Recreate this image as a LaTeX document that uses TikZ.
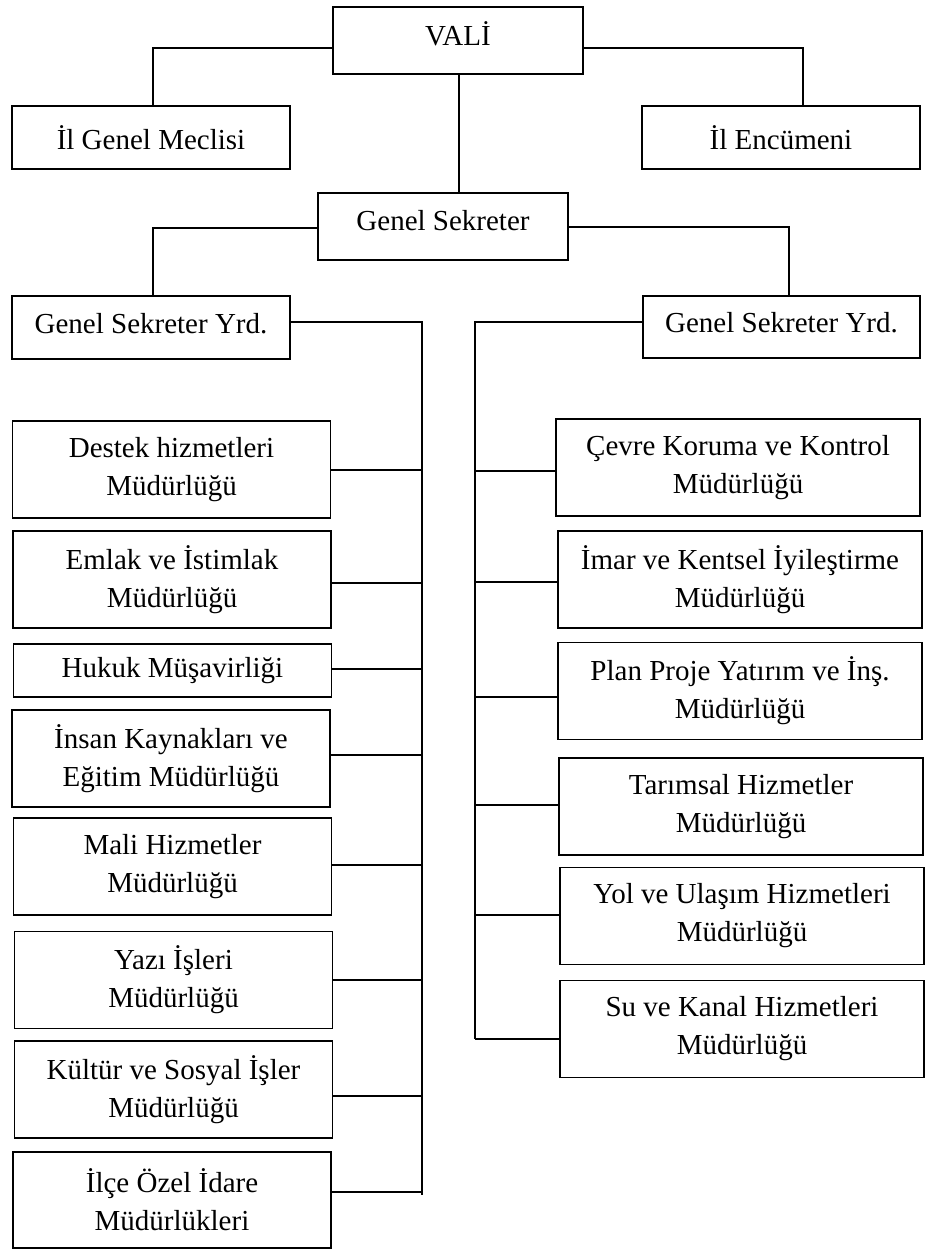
\documentclass[tikz,border=0pt]{standalone}
\usepackage{fontspec}
\setmainfont{Liberation Serif}
\usepackage{tikz}

\begin{document}
\begin{tikzpicture}[x=1pt,y=-1pt,
  kutu/.style={draw,line width=1.1pt,align=center,inner sep=0pt,font=\fontsize{29}{38}\selectfont},
  sol/.style={kutu,minimum width=318,minimum height=97},
  sag/.style={kutu,minimum width=364,minimum height=97},
  hat/.style={line width=2pt}]
\useasboundingbox (0,0) rectangle (924,1249);
\node[kutu,minimum width=250,minimum height=67,text height=22pt,text depth=11pt] (vali) at (458,40.5){VALİ};
\node[kutu,minimum width=278,minimum height=63] (meclis) at (151,137.5){İl Genel Meclisi};
\node[kutu,minimum width=278,minimum height=63] (encumen) at (781,137.5){İl Encümeni};
\node[kutu,minimum width=250,minimum height=67,text height=22pt,text depth=13pt] (gensek) at (443,226.5){Genel Sekreter};
\node[kutu,minimum width=278,minimum height=63,text height=20pt,text depth=9pt] (yrdL) at (151,327.5){Genel Sekreter Yrd.};
\node[kutu,minimum width=277,minimum height=62,text height=20pt,text depth=9pt] (yrdR) at (781.5,327){Genel Sekreter Yrd.};
\node[sol] (destek) at (171.5,469.5){Destek hizmetleri\\Müdürlüğü};
\node[sol] (emlak) at (172,579.5){Emlak ve İstimlak\\Müdürlüğü};
\node[sol,minimum height=53] (hukuk) at (172.5,670.5){Hukuk Müşavirliği};
\node[sol] (insan) at (171,758.5){İnsan Kaynakları ve\\Eğitim Müdürlüğü};
\node[sol] (mali) at (172.5,866.5){Mali Hizmetler\\Müdürlüğü};
\node[sol] (yazi) at (173.5,980){Yazı İşleri\\Müdürlüğü};
\node[sol] (kultur) at (173.5,1089.5){Kültür ve Sosyal İşler\\Müdürlüğü};
\node[sol,minimum height=96] (ilce) at (172,1200){İlçe Özel İdare\\Müdürlükleri};
\node[sag] (cevre) at (738,467.5){Çevre Koruma ve Kontrol\\Müdürlüğü};
\node[sag] (imar) at (740,579.5){İmar ve Kentsel İyileştirme\\Müdürlüğü};
\node[sag] (plan) at (740,691){Plan Proje Yatırım ve İnş.\\Müdürlüğü};
\node[sag] (tarim) at (741,806.5){Tarımsal Hizmetler\\Müdürlüğü};
\node[sag] (yol) at (742,916){Yol ve Ulaşım Hizmetleri\\Müdürlüğü};
\node[sag] (su) at (742,1029){Su ve Kanal Hizmetleri\\Müdürlüğü};
\coordinate (solhat) at (422,1195);
\coordinate (saghat) at (475,1039);
\draw[hat] ([yshift=-7.5pt]vali.west) -| ([xshift=2pt]meclis.north);
\draw[hat] ([yshift=-7.5pt]vali.east) -| ([xshift=22pt]encumen.north);
\draw[hat] ([xshift=1pt]vali.south) -- ([xshift=1pt]vali.south |- gensek.north);
\draw[hat] ([yshift=-1.5pt]gensek.west) -| ([xshift=2pt]yrdL.north);
\draw[hat] ([yshift=-0.5pt]gensek.east) -| ([xshift=7.5pt]yrdR.north);
\draw[hat] ([yshift=5.5pt]yrdL.east) -| (solhat);
\draw[hat] ([yshift=5pt]yrdR.west) -| (saghat);
\foreach \b/\d in {destek/-0.5,emlak/-3.5,hukuk/1.5,insan/3.5,mali/1.5,yazi/0,kultur/-6.5,ilce/8}
  \draw[hat] ([yshift=\d pt]\b.east) coordinate (u) -- (u -| solhat);
\foreach \b/\d in {cevre/-3.5,imar/-2.5,plan/-6,tarim/1.5,yol/1,su/-10}
  \draw[hat] ([yshift=\d pt]\b.west) coordinate (u) -- (u -| saghat);
\end{tikzpicture}
\end{document}
